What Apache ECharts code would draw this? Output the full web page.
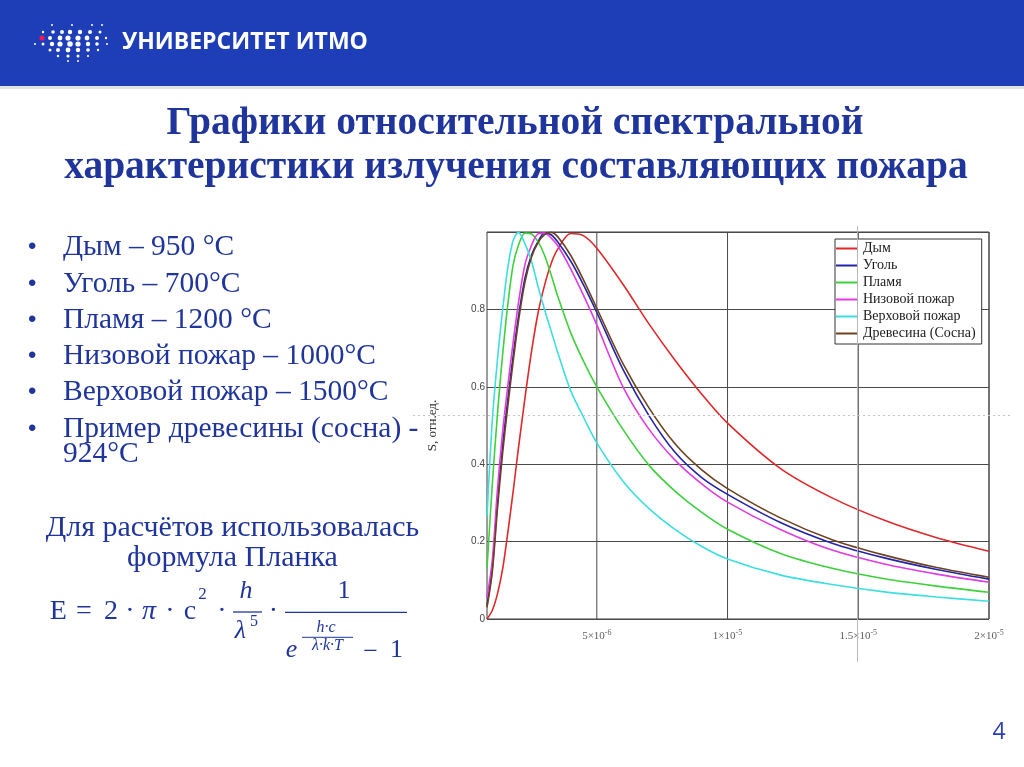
<!DOCTYPE html>
<html><head><meta charset="utf-8">
<script src="https://cdn.jsdelivr.net/npm/echarts@6/dist/echarts.min.js"></script>
<style>html,body{margin:0;padding:0;background:#fff}#c{width:1024px;height:767px}</style>
</head><body><div id="c"></div>
<script>
// ---- data ----
const wavelengthsUm = [0.8,1,1.2,1.4,1.6,1.8,2,2.25,2.5,2.75,3,3.25,3.5,4,4.5,5,6,7,8,9,10,12,14,16,18,20];
const smoke  = [0.0,0.022,0.065,0.13,0.225,0.33,0.44,0.57,0.69,0.79,0.862,0.918,0.955,0.996,0.99,0.958,0.865,0.762,0.668,0.582,0.506,0.39,0.313,0.255,0.21,0.175];
const coal   = [0.035,0.13,0.30,0.45,0.57,0.68,0.78,0.88,0.94,0.975,0.997,0.993,0.975,0.925,0.862,0.792,0.645,0.525,0.43,0.366,0.322,0.25,0.196,0.158,0.128,0.103];
const flame  = [0.13,0.345,0.53,0.685,0.815,0.915,0.965,0.997,0.995,0.975,0.94,0.89,0.835,0.74,0.665,0.60,0.49,0.397,0.33,0.276,0.232,0.17,0.131,0.104,0.085,0.069];
const ground = [0.055,0.15,0.335,0.485,0.605,0.715,0.815,0.915,0.965,0.995,0.997,0.985,0.965,0.905,0.835,0.76,0.60,0.49,0.41,0.35,0.302,0.232,0.178,0.142,0.116,0.095];
const crown  = [0.265,0.51,0.67,0.80,0.91,0.978,0.999,0.97,0.925,0.86,0.80,0.745,0.69,0.59,0.52,0.455,0.356,0.285,0.231,0.188,0.155,0.114,0.089,0.07,0.057,0.046];
const pine   = [0.03,0.12,0.285,0.43,0.552,0.665,0.768,0.87,0.935,0.972,0.993,0.999,0.988,0.94,0.875,0.803,0.66,0.545,0.452,0.386,0.337,0.262,0.205,0.165,0.133,0.108];
const seriesNames = ['Дым','Уголь','Пламя','Низовой пожар','Верховой пожар','Древесина (Сосна)'];
const xMinUm = 0.8, xMaxUm = 20;
const xTicks = [5e-6, 1e-5, 1.5e-5, 2e-5];
const xTickMantissa = ['5','1','1.5','2'];
const xTickExponent = ['-6','-5','-5','-5'];
const yTicksMax = 1, yTickStep = 0.2;
const yAxisName = 'S, отн.ед.';
const titleLines = ['Графики относительной спектральной','характеристики излучения составляющих пожара'];
const bulletLines = ['Дым – 950 °C','Уголь – 700°C','Пламя – 1200 °C','Низовой пожар – 1000°C','Верховой пожар – 1500°C','Пример древесины (сосна) -'];
const bulletWrap = '924°C';
const noteLines = ['Для расчётов использовалась','формула Планка'];
const pageNumber = '4';
const logoText = 'УНИВЕРСИТЕТ ИТМО';

// ---- styling ----
const serif = '"Liberation Serif","Times New Roman",serif';
const textBlue = '#1f359c';
const colors = ['#e0282a','#2424a8','#3dd13d','#e03ce0','#3ddede','#6e4220'];
const valuesList = [smoke, coal, flame, ground, crown, pine];

const series = [];
// vertical grid lines at the x ticks
xTicks.forEach(v => series.push({
  type: 'line', data: [[v, 0], [v, yTicksMax]], symbol: 'none', silent: true, z: 1,
  lineStyle: {color: '#4a4a4a', width: 1}, tooltip: {show: false}
}));
// x tick labels
series.push({
  type: 'scatter', data: xTicks.map(v => [v, 0]), symbol: 'rect', symbolSize: 1, silent: true, clip: false, z: 1,
  itemStyle: {color: 'rgba(0,0,0,0)'},
  label: {show: true, position: 'bottom', distance: 9,
    formatter: p => '{b|' + xTickMantissa[p.dataIndex] + '×10}{s|' + xTickExponent[p.dataIndex] + '}',
    rich: {
      b: {fontFamily: serif, fontSize: 11, color: '#333'},
      s: {fontFamily: serif, fontSize: 8, color: '#333', verticalAlign: 'top', padding: [0, 0, 7, 0]}
    }}
});
valuesList.forEach((vals, i) => series.push({
  name: seriesNames[i],
  type: 'line',
  data: wavelengthsUm.map((w, j) => [w * 1e-6, vals[j]]),
  smooth: 0.3,
  symbol: 'none',
  showSymbol: false,
  lineStyle: {color: colors[i], width: 1.6},
  itemStyle: {color: colors[i]},
  z: 3 + i,
  silent: true
}));

function txt(x, y, text, o) {
  return {type: 'text', x: x, y: y, z: 50, silent: true,
    style: Object.assign({text: text, fill: textBlue, fontFamily: serif, fontSize: 28,
      align: 'left', verticalAlign: 'middle', textAlign: 'left', textVerticalAlign: 'middle'}, o || {})};
}
function ctr(o) { return Object.assign({align: 'center', textAlign: 'center'}, o || {}); }

const g = [];
g.push({type: 'rect', z: 40, silent: true, shape: {x: 0, y: 0, width: 1024, height: 86}, style: {fill: '#1e3eb8'}});
g.push({type: 'rect', z: 40, silent: true, shape: {x: 0, y: 86, width: 1024, height: 3}, style: {fill: '#e2e2e2'}});
// logo dots
const dots = [
 [52,25,1],[72,25,1],[92,25,1],[102,25,1],
 [43,32,1.2],[53,32,1.8],[62,32,2],[70,32,2.2],[80,32,2.2],[90,32,2],[100,32,1.5],
 [50,38,2],[60,38,2.4],[68,38,2.6],[78,38,2.6],[87,38,2.4],[97,38,2],[106,38,1.2],
 [35,44,1],[43,44,1.5],[52,44,2.2],[60,44,2.6],[70,44,2.8],[78,44,2.6],[88,44,2.2],[97,44,1.8],[107,44,1],
 [50,50,1.5],[58,50,2],[68,50,2.4],[78,50,2.2],[88,50,1.8],[98,50,1.2],
 [58,56,1.2],[68,56,1.6],[78,56,1.5],[88,56,1.1],
 [68,61,1],[78,61,1]
];
dots.forEach(d => g.push({type: 'circle', z: 41, silent: true, shape: {cx: d[0], cy: d[1], r: d[2]}, style: {fill: '#ffffff'}}));
g.push({type: 'circle', z: 41, silent: true, shape: {cx: 42, cy: 38, r: 2.6}, style: {fill: '#e8175d'}});
g.push(txt(122, 42, logoText, {fill: '#ffffff', fontFamily: '"Open Sans",sans-serif', fontWeight: 'bold', fontSize: 23}));
// title
g.push(txt(515, 124, titleLines[0], ctr({fontWeight: 'bold', fontSize: 39.5})));
g.push(txt(516, 168, titleLines[1], ctr({fontWeight: 'bold', fontSize: 39.5})));
// bullets
const bulletY = [247.5, 284, 320, 356, 392.5, 429];
bulletLines.forEach((t, i) => {
  g.push(txt(28, bulletY[i], '•', {fontFamily: '"Liberation Sans",sans-serif', fontSize: 24}));
  g.push(txt(63, bulletY[i], t, {fontSize: 29.5}));
});
g.push(txt(63, 454.5, bulletWrap, {fontSize: 29.5}));
// note
g.push(txt(232.5, 528.5, noteLines[0], ctr({fontSize: 30})));
g.push(txt(232.5, 558.5, noteLines[1], ctr({fontSize: 30})));
// formula
const F = 28;
[['E',58.3],['=',84],['2',111],['·',130],['π',149,true],['·',170],['c',190],['·',222]].forEach(p => {
  g.push(txt(p[1], 612, p[0], ctr({fontSize: F, fontStyle: p[2] ? 'italic' : 'normal'})));
});
g.push(txt(202.5, 595, '2', ctr({fontSize: 17})));
g.push(txt(246, 591, 'h', ctr({fontSize: 26, fontStyle: 'italic'})));
g.push({type: 'line', z: 50, silent: true, shape: {x1: 233, y1: 612, x2: 262, y2: 612}, style: {stroke: textBlue, lineWidth: 1.3}});
g.push(txt(240.5, 631, 'λ', ctr({fontSize: 26, fontStyle: 'italic'})));
g.push(txt(254, 622, '5', ctr({fontSize: 16})));
g.push(txt(273.5, 612, '·', ctr({fontSize: F})));
g.push(txt(344, 591, '1', ctr({fontSize: 26})));
g.push({type: 'line', z: 50, silent: true, shape: {x1: 285, y1: 612.3, x2: 407, y2: 612.3}, style: {stroke: textBlue, lineWidth: 1.3}});
g.push(txt(291.5, 650, 'e', ctr({fontSize: 26, fontStyle: 'italic'})));
g.push(txt(326, 627.5, 'h·c', ctr({fontSize: 16, fontStyle: 'italic'})));
g.push({type: 'line', z: 50, silent: true, shape: {x1: 302, y1: 637.3, x2: 353, y2: 637.3}, style: {stroke: textBlue, lineWidth: 1}});
g.push(txt(327.5, 646, 'λ·k·T', ctr({fontSize: 16, fontStyle: 'italic'})));
g.push(txt(370.5, 652.5, '−', ctr({fontSize: 26})));
g.push(txt(396.5, 650, '1', ctr({fontSize: 26})));
// page number
g.push(txt(999, 732, pageNumber, ctr({fontFamily: '"Open Sans",sans-serif', fontSize: 23, fill: '#2a3fb0'})));
// slide guides
g.push({type: 'line', z: 100, silent: true, shape: {x1: 413, y1: 415.5, x2: 1010, y2: 415.5}, style: {stroke: '#c4c4c4', lineWidth: 1, lineDash: [2, 3]}});
g.push({type: 'line', z: 100, silent: true, shape: {x1: 857.5, y1: 226, x2: 857.5, y2: 662}, style: {stroke: '#b8b8b8', lineWidth: 1}});

const option = {
  animation: false,
  backgroundColor: '#ffffff',
  grid: {left: 487, top: 232, right: 35, bottom: 148, show: true, borderColor: '#3a3a3a', borderWidth: 1, backgroundColor: '#ffffff'},
  xAxis: {type: 'value', min: xMinUm * 1e-6, max: xMaxUm * 1e-6,
    axisLine: {show: false}, axisTick: {show: false}, axisLabel: {show: false}, splitLine: {show: false}},
  yAxis: {type: 'value', min: 0, max: yTicksMax, interval: yTickStep,
    name: yAxisName, nameLocation: 'middle', nameGap: 48,
    nameTextStyle: {fontFamily: serif, fontSize: 13, color: '#333'},
    axisLine: {show: false}, axisTick: {show: false},
    axisLabel: {fontFamily: '"Liberation Sans",sans-serif', fontSize: 10, color: '#444', margin: 2,
      formatter: v => (v >= yTicksMax ? '' : String(Math.round(v * 10) / 10))},
    splitLine: {lineStyle: {color: '#4a4a4a', width: 1}}},
  legend: {orient: 'vertical', left: 835, top: 239, icon: 'rect', itemWidth: 22, itemHeight: 2, itemGap: 2,
    padding: [2, 6, 3, 1], backgroundColor: '#ffffff', borderColor: '#333', borderWidth: 1,
    textStyle: {fontFamily: serif, fontSize: 14, color: '#1a1a1a', lineHeight: 15},
    data: seriesNames, selectedMode: false},
  graphic: g,
  series: series
};
const chart = echarts.init(document.getElementById('c'));
chart.setOption(option);
</script></body></html>
